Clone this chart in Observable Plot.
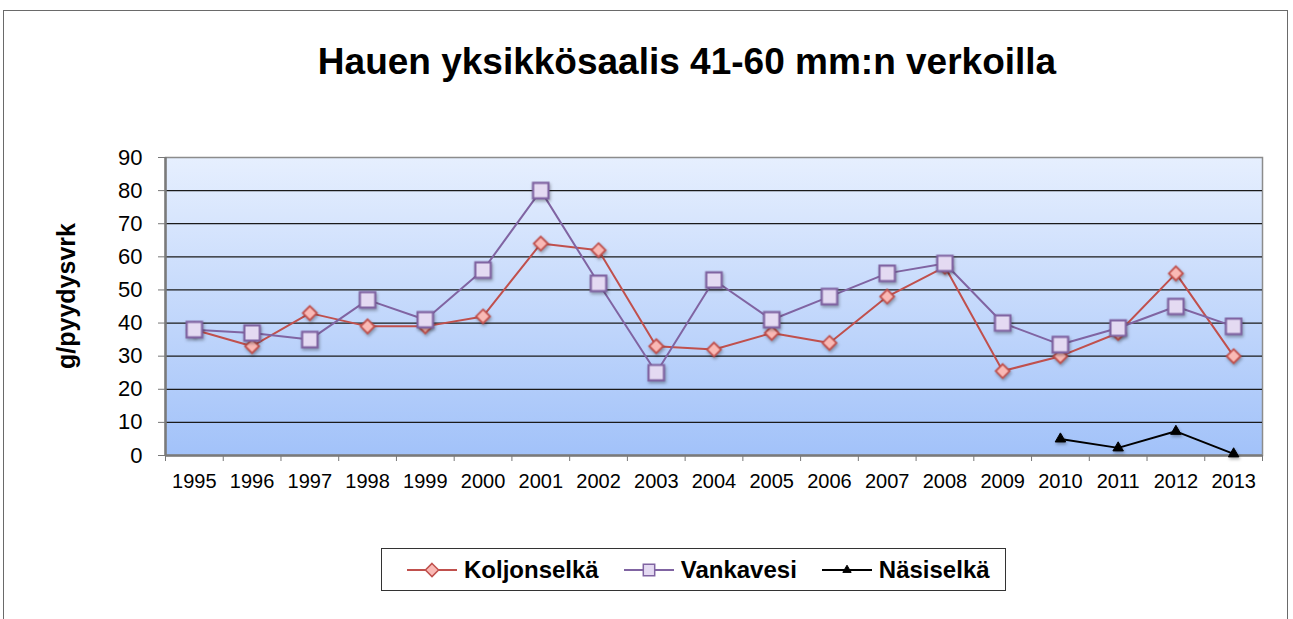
<!DOCTYPE html>
<html><head><meta charset="utf-8">
<script src="https://cdn.jsdelivr.net/npm/d3@7"></script>
<script src="https://cdn.jsdelivr.net/npm/@observablehq/plot@0.6"></script>
<style>
body{margin:0;background:#fff;font-family:"Liberation Sans",Arial,sans-serif;}
#wrap{position:relative;width:1293px;height:619px;overflow:hidden;background:#fff}
#border{position:absolute;left:3px;top:10px;width:1285px;height:700px;border:1.5px solid #6a6a6a;box-sizing:border-box}
#title{position:absolute;left:0;width:1374px;top:40px;text-align:center;font-weight:bold;font-size:37px;line-height:44px;color:#000}
#ylabel{position:absolute;left:66px;top:296px;transform:translate(-50%,-50%) rotate(-90deg);font-weight:bold;font-size:25px;white-space:nowrap;color:#000}
#chart{position:absolute;left:0;top:130px}
#legend{position:absolute;left:381px;top:548px;width:625px;height:43px;border:1.2px solid #333;box-sizing:border-box;display:flex;align-items:center;padding-left:25px;font-weight:bold;font-size:24px;color:#000}
#legend .item{display:flex;align-items:center;margin-right:25px}
#legend svg{margin-right:7px}
</style></head>
<body>
<div id="wrap">
  <div id="border"></div>
  <div id="title">Hauen yksikkösaalis 41-60 mm:n verkoilla</div>
  <div id="ylabel">g/pyydysvrk</div>
  <div id="chart"></div>
  <div id="legend"></div>
</div>
<script>
const years = [1995,1996,1997,1998,1999,2000,2001,2002,2003,2004,2005,2006,2007,2008,2009,2010,2011,2012,2013];
const koljonselka = [38,33,43,39,39,42,64,62,33,32,37,34,48,57,25.5,30,37,55,30];
const vankavesi = [38,37,35,47,41,56,80,52,25,53,41,48,55,58,40,33.5,38.5,45,39];
const nasiselkaYears = [2010,2011,2012,2013];
const nasiselka = [5,2.3,7.3,0.5];
const yTicks = [0,10,20,30,40,50,60,70,80,90];
const seriesNames = ["Koljonselkä","Vankavesi","Näsiselkä"];

const kData = years.map((y,i)=>({year:y, value:koljonselka[i]}));
const vData = years.map((y,i)=>({year:y, value:vankavesi[i]}));
const nData = nasiselkaYears.map((y,i)=>({year:y, value:nasiselka[i]}));
const boundaries = [years[0]-0.5, ...years.map(y=>y+0.5)];

const styles = {
  "Koljonselkä": {stroke:"#c0504d", fill:"#f9b9b5"},
  "Vankavesi": {stroke:"#8064a2", fill:"#e4daf2"},
  "Näsiselkä": {stroke:"#000", fill:"#000"}
};

const chart = Plot.plot({
  width: 1293,
  height: 370,
  marginTop: 27,
  marginBottom: 45,
  marginLeft: 165,
  marginRight: 31,
  style: {fontFamily: '"Liberation Sans", Arial, sans-serif', background: "transparent", overflow: "visible"},
  x: {type: "linear", domain: [years[0]-0.5, years[years.length-1]+0.5]},
  y: {domain: [0, 90]},
  marks: [
    Plot.frame({fill: "url(#bgGrad)", stroke: "#8c8c8c", strokeWidth: 1.5}),
    Plot.ruleY(yTicks.filter(d => d > 0 && d < 90), {stroke: "#1a1a1a", strokeWidth: 1.2}),
    Plot.axisY(yTicks, {tickSize: 7, tickPadding: 16, fontSize: 22, stroke: "#777", fill: "#000", label: null, tickFormat: d => String(d)}),
    Plot.axisX(boundaries, {tickSize: 6, tickFormat: () => "", stroke: "#777", label: null}),
    Plot.axisX(years, {tickSize: 0, tickPadding: 18, fontSize: 20, fill: "#000", label: null, tickFormat: d => String(d)}),
    Plot.ruleX([years[0]-0.5], {stroke: "#7a7a7a", strokeWidth: 2.5}),
    Plot.ruleY([0], {stroke: "#7a7a7a", strokeWidth: 2.5}),
    Plot.line(kData, {x: "year", y: "value", stroke: styles["Koljonselkä"].stroke, strokeWidth: 2}),
    Plot.line(vData, {x: "year", y: "value", stroke: styles["Vankavesi"].stroke, strokeWidth: 2}),
    Plot.line(nData, {x: "year", y: "value", stroke: "#000", strokeWidth: 2}),
    Plot.dot(kData, {x: "year", y: "value", symbol: "diamond2", r: 6.3, stroke: styles["Koljonselkä"].stroke, fill: styles["Koljonselkä"].fill, strokeWidth: 1.8}),
    Plot.dot(vData, {x: "year", y: "value", symbol: "square", r: 8.7, stroke: styles["Vankavesi"].stroke, fill: styles["Vankavesi"].fill, strokeWidth: 2.2}),
    Plot.dot(nData, {x: "year", y: "value", symbol: "triangle", r: 3.9, stroke: "#000", fill: "#000", strokeWidth: 1})
  ]
});

const svg = d3.select(chart);
const defs = svg.insert("defs", ":first-child");
const g = defs.append("linearGradient").attr("id", "bgGrad").attr("x1", 0).attr("x2", 0).attr("y1", 0).attr("y2", 1);
g.append("stop").attr("offset", "0%").attr("stop-color", "#e6effe");
g.append("stop").attr("offset", "100%").attr("stop-color", "#a2c2f9");
svg.selectAll('g[aria-label="dot"]').style("filter", "drop-shadow(1px 2px 1.5px rgba(0,0,0,0.3))");
document.getElementById("chart").appendChild(chart);

// legend
const legend = d3.select("#legend");
seriesNames.forEach(name => {
  const s = styles[name];
  const item = legend.append("div").attr("class", "item");
  const sv = item.append("svg").attr("width", 50).attr("height", 20);
  sv.append("line").attr("x1", 0).attr("x2", 50).attr("y1", 10).attr("y2", 10).attr("stroke", s.stroke).attr("stroke-width", 2);
  const sym = name === "Koljonselkä" ? d3.symbolDiamond2 : name === "Vankavesi" ? d3.symbolSquare : d3.symbolTriangle;
  const size = name === "Näsiselkä" ? 30 : name === "Koljonselkä" ? 110 : 130;
  sv.append("path").attr("d", d3.symbol(sym, size)()).attr("transform", "translate(25,10)")
    .attr("fill", s.fill).attr("stroke", s.stroke).attr("stroke-width", name === "Näsiselkä" ? 1 : 1.5);
  item.append("span").text(name);
});
</script>
</body></html>
